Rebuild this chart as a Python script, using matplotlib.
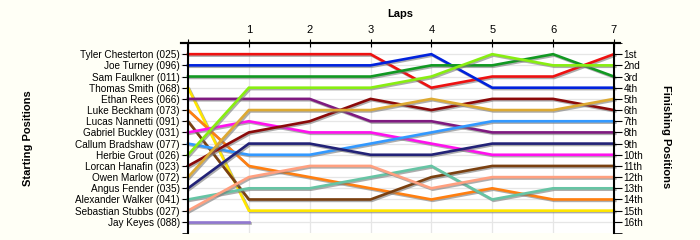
import matplotlib
matplotlib.use('Agg')
import matplotlib.pyplot as plt
import matplotlib.patheffects as pe
import numpy as np

plt.rcParams['font.family'] = ['Liberation Sans', 'DejaVu Sans']

laps = [0, 1, 2, 3, 4, 5, 6, 7]

drivers = [
    'Tyler Chesterton (025)', 'Joe Turney (096)', 'Sam Faulkner (011)',
    'Thomas Smith (068)', 'Ethan Rees (066)', 'Luke Beckham (073)',
    'Lucas Nannetti (091)', 'Gabriel Buckley (031)', 'Callum Bradshaw (077)',
    'Herbie Grout (026)', 'Lorcan Hanafin (023)', 'Owen Marlow (072)',
    'Angus Fender (035)', 'Alexander Walker (041)', 'Sebastian Stubbs (027)',
    'Jay Keyes (088)',
]

# position of each driver after each lap (lap 0 = grid)
positions = [
    [1, 1, 1, 1, 4, 3, 3, 1],
    [2, 2, 2, 2, 1, 4, 4, 4],
    [3, 3, 3, 3, 2, 2, 1, 3],
    [4, 15, 15, 15, 15, 15, 15, 15],
    [5, 5, 5, 7, 7, 8, 8, 8],
    [6, 11, 12, 13, 14, 13, 14, 14],
    [7, 14, 14, 14, 12, 11, 11, 11],
    [8, 7, 8, 8, 9, 10, 10, 10],
    [9, 10, 10, 9, 8, 7, 7, 7],
    [10, 4, 4, 4, 3, 1, 2, 2],
    [11, 8, 7, 5, 6, 5, 5, 6],
    [12, 6, 6, 6, 5, 6, 6, 5],
    [13, 9, 9, 10, 10, 9, 9, 9],
    [14, 13, 13, 12, 11, 14, 13, 13],
    [15, 12, 11, 11, 13, 12, 12, 12],
    [16, 16, None, None, None, None, None, None],
]

colors = [
    '#EE1111', '#0022DD', '#119922', '#FFE600', '#7F1A80', '#FF7F10',
    '#7A4010', '#FF11EE', '#3399FF', '#88EE11', '#8B0A0A', '#DDAA33',
    '#222277', '#66C4A4', '#FFA080', '#9077D0',
]

finish_labels = ['1st', '2nd', '3rd', '4th', '5th', '6th', '7th', '8th',
                 '9th', '10th', '11th', '12th', '13th', '14th', '15th', '16th']

fs = 7.2

fig = plt.figure(figsize=(7, 2.4), dpi=100, facecolor='#FFFFF6')
ax = fig.add_axes([181 / 700, 1 - 233 / 240, 439 / 700, 190 / 240])
ax.set_facecolor('white')

shadow = [pe.SimpleLineShadow(offset=(1, -1), shadow_color='#777777', alpha=0.6), pe.Normal()]

for name, pos, c in zip(drivers, positions, colors):
    y = np.array([np.nan if p is None else p for p in pos], dtype=float)
    ax.plot(laps, y, color=c, lw=1.9, path_effects=shadow, solid_joinstyle='miter')

ax.set_xlim(-0.115, 7.1)
ax.set_ylim(17, 0)

ax.xaxis.tick_top()
ax.tick_params(axis='x', which='major', direction='inout', length=6, labelsize=8, pad=3)
ax.set_xticks(laps)
ax.set_xticklabels([''] + [str(l) for l in laps[1:]])
for t in ax.xaxis.get_major_ticks()[1:7]:
    t.tick2line.set_color('#dddddd')

pos_ticks = list(range(1, 17))
ax.tick_params(axis='y', which='both', length=4.5, pad=1.5, labelsize=fs)
ax.set_yticks(pos_ticks)
ax.set_yticklabels(drivers)
ax.set_yticks([0, 17], minor=True)

ax2 = ax.twinx()
ax2.set_ylim(17, 0)
ax2.tick_params(axis='y', which='both', length=6, pad=1, labelsize=fs)
ax2.set_yticks(pos_ticks)
ax2.set_yticklabels(finish_labels)
ax2.set_yticks([0, 17], minor=True)

fig.text(400 / 700, 1 - 14 / 240, 'Laps', fontweight='bold', fontsize=8, ha='center', va='center')
fig.text(28 / 700, 1 - 138 / 240, 'Starting Positions', fontweight='bold', fontsize=8,
         rotation=90, ha='center', va='center')
fig.text(666 / 700, 1 - 137 / 240, 'Finishing Positions', fontweight='bold', fontsize=8,
         rotation=270, ha='center', va='center')

for a in (ax, ax2):
    a.spines['left'].set_position(('data', 0))
    a.spines['right'].set_position(('data', 7))
    a.spines['bottom'].set_visible(False)
    a.spines['top'].set_linewidth(1.5)
    a.spines['left'].set_linewidth(1.5)
    a.spines['right'].set_linewidth(1.5)
ax2.spines['left'].set_visible(False)
ax.spines['right'].set_visible(False)

ax.set_axisbelow(True)
ax.grid(True, color='#e6e6e6', lw=0.9)

fig.savefig('out.png', dpi=100, facecolor=fig.get_facecolor())
